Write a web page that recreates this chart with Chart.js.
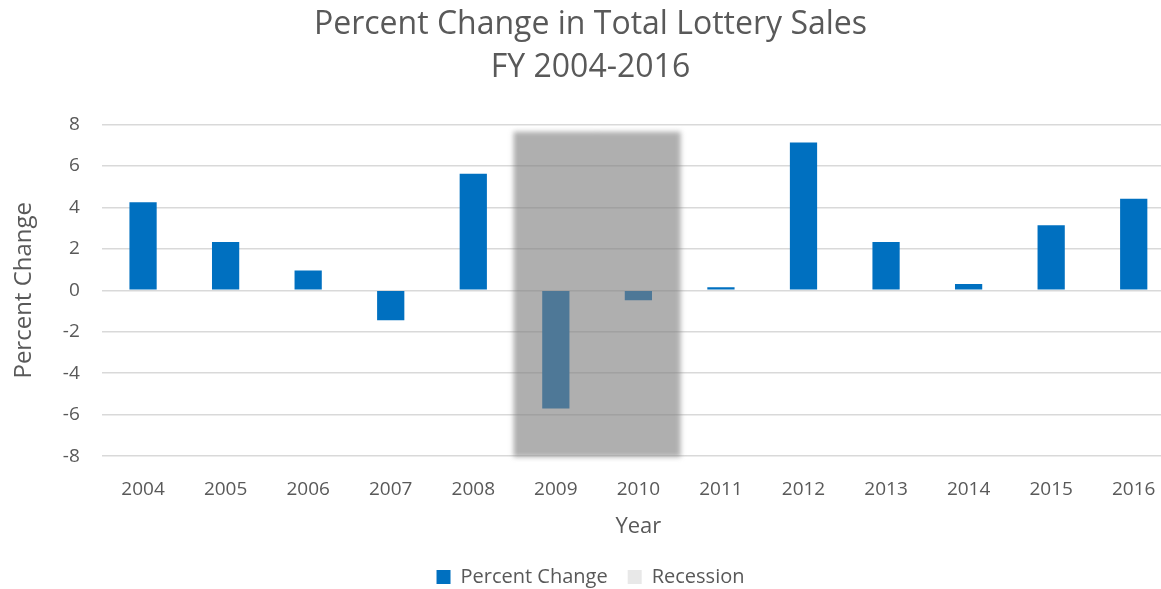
<!DOCTYPE html>
<html>
<head>
<meta charset="utf-8">
<script src="https://cdn.jsdelivr.net/npm/chart.js@4"></script>
<style>
  html, body { margin: 0; padding: 0; overflow: hidden; background: #fff; }
  #wrap { position: absolute; left: 0; top: 0; width: 1230px; height: 600px; }
</style>
</head>
<body>
<div id="wrap"><canvas id="myChart"></canvas></div>
<script>
const years = ['2004', '2005', '2006', '2007', '2008', '2009', '2010', '2011', '2012', '2013', '2014', '2015', '2016'];
const percentChange = [4.25, 2.33, 0.95, -1.45, 5.62, -5.7, -0.48, 0.15, 7.13, 2.33, 0.3, 3.14, 4.41];
// recession band spans 2009-2010, from the bottom of the axis to just under the top
const recessionSpan = [null, null, null, null, null, [-8, 7.6], [-8, 7.6], null, null, null, null, null, null];
const yTicks = [-8, -6, -4, -2, 0, 2, 4, 6, 8];

const textColor = '#595959';
const fontFamily = '"Open Sans", sans-serif';

// draw the recession bars on their own layer, then put that layer down blurred and
// see-through so the two bars read as one soft band with no seam
const shadePlugin = {
        id: 'shade',
        beforeDatasetDraw(chart, args) {
                if (args.index !== 1) return;
                const layer = document.createElement('canvas');
                layer.width = chart.canvas.width;
                layer.height = chart.canvas.height;
                const lctx = layer.getContext('2d');
                args.meta.data.forEach((el, i) => {
                        if (recessionSpan[i] !== null) el.draw(lctx);
                });
                const ctx = chart.ctx;
                ctx.save();
                ctx.globalAlpha = 0.62;
                ctx.filter = 'blur(2.5px)';
                ctx.drawImage(layer, 0, 0);
                ctx.restore();
                return false;
        }
};

const ctx = document.getElementById('myChart').getContext('2d');
const myChart = new Chart(ctx, {
        type: 'bar',
        data: {
                labels: years,
                datasets: [{
                        label: 'Percent Change',
                        data: percentChange,
                        backgroundColor: '#0070c0',
                        barPercentage: 0.33,
                        categoryPercentage: 1,
                        grouped: false,
                        order: 2
                }, {
                        label: 'Recession',
                        data: recessionSpan,
                        backgroundColor: 'rgb(127,127,127)',
                        barPercentage: 1,
                        categoryPercentage: 1,
                        grouped: false,
                        inflateAmount: 1,
                        order: 1
                }]
        },
        options: {
                responsive: true,
                maintainAspectRatio: false,
                animation: false,
                layout: { padding: { left: 6, right: 55, top: 3, bottom: 3 } },
                plugins: {
                        title: {
                                display: true,
                                text: ['Percent Change in Total Lottery Sales', 'FY 2004-2016'],
                                color: textColor,
                                font: { family: fontFamily, size: 32, weight: 'normal', lineHeight: 1.35 },
                                padding: { top: 0, bottom: 35 }
                        },
                        legend: {
                                position: 'bottom',
                                labels: {
                                        color: textColor,
                                        font: { family: fontFamily, size: 20 },
                                        boxWidth: 14,
                                        boxHeight: 14,
                                        padding: 20,
                                        sort: (a, b) => a.datasetIndex - b.datasetIndex,
                                        generateLabels: () => [
                                                { text: 'Percent Change', fillStyle: '#0070c0', strokeStyle: '#0070c0', lineWidth: 0, datasetIndex: 0, fontColor: textColor },
                                                { text: 'Recession', fillStyle: '#e8e8e8', strokeStyle: '#e8e8e8', lineWidth: 0, datasetIndex: 1, fontColor: textColor }
                                        ]
                                }
                        },
                        tooltip: { enabled: false }
                },
                scales: {
                        x: {
                                grid: { display: false },
                                border: { display: false },
                                ticks: { color: textColor, font: { family: fontFamily, size: 19 }, padding: 14 },
                                title: { display: true, text: 'Year', color: textColor, font: { family: fontFamily, size: 22, lineHeight: 1.05 }, padding: { top: 0, bottom: 9 } }
                        },
                        y: {
                                min: -8,
                                max: 8,
                                afterBuildTicks: (axis) => { axis.ticks = yTicks.map(v => ({ value: v })); },
                                grid: { color: '#d9d9d9', lineWidth: 1.5, drawTicks: false },
                                border: { display: false },
                                ticks: { color: textColor, font: { family: fontFamily, size: 19 }, padding: 22 },
                                title: { display: true, text: 'Percent Change', color: textColor, font: { family: fontFamily, size: 24 }, padding: { bottom: 2 } }
                        }
                }
        },
        plugins: [shadePlugin]
});
</script>
</body>
</html>
